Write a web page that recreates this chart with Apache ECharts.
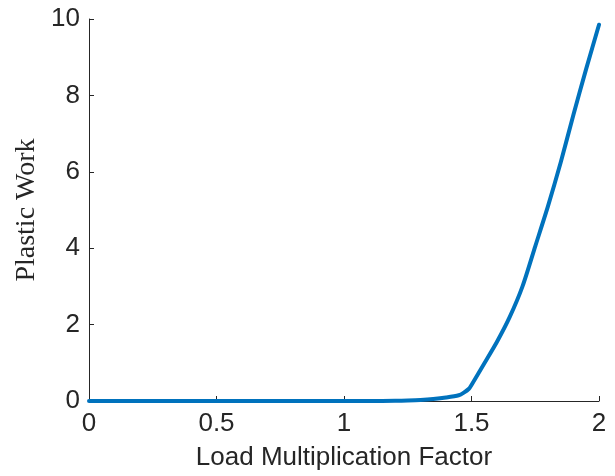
<!DOCTYPE html>
<html>
<head>
<meta charset="utf-8">
<script src="https://cdn.jsdelivr.net/npm/echarts@6/dist/echarts.min.js"></script>
<style>
  html, body { margin: 0; padding: 0; background: #ffffff; }
  #chart { width: 615px; height: 476px; }
</style>
</head>
<body>
<div id="chart"></div>
<script>
// Load multiplication factor (x) and accumulated plastic work (y)
const loadFactor = [0, 0.1, 0.2, 0.3, 0.4, 0.5, 0.6, 0.7, 0.8, 0.9, 1.0, 1.1, 1.2, 1.25, 1.3, 1.35, 1.4, 1.45, 1.47, 1.49, 1.5, 1.55, 1.6, 1.65, 1.7, 1.75, 1.8, 1.85, 1.9, 1.95, 2.0];
const plasticWork = [0, 0, 0, 0, 0, 0, 0, 0, 0, 0, 0, 0.001, 0.005, 0.012, 0.025, 0.05, 0.09, 0.15, 0.22, 0.32, 0.42, 0.98, 1.55, 2.2, 3.0, 4.05, 5.1, 6.25, 7.5, 8.7, 9.85];

const xTicks = { min: 0, max: 2, step: 0.5 };
const yTicks = { min: 0, max: 10, step: 2 };

const axisInk = '#262626';
const chart = echarts.init(document.getElementById('chart'), null, { renderer: 'canvas' });

chart.setOption({
  animation: false,
  backgroundColor: '#ffffff',
  grid: { left: 89, right: 16, top: 19, bottom: 72, containLabel: false },
  xAxis: {
    type: 'value',
    min: xTicks.min, max: xTicks.max, interval: xTicks.step,
    name: 'Load Multiplication Factor',
    nameLocation: 'middle',
    nameGap: 44,
    nameTextStyle: { fontFamily: 'Liberation Sans', fontSize: 26, color: axisInk },
    axisLine: { show: true, lineStyle: { color: axisInk, width: 1 } },
    axisTick: { show: true, inside: true, length: 5, lineStyle: { color: axisInk } },
    axisLabel: { fontFamily: 'Liberation Sans', fontSize: 26, color: axisInk, margin: 10 },
    splitLine: { show: false }
  },
  yAxis: {
    type: 'value',
    min: yTicks.min, max: yTicks.max, interval: yTicks.step,
    name: 'Plastic Work',
    nameLocation: 'middle',
    nameGap: 45,
    nameRotate: 90,
    nameTextStyle: { fontFamily: 'Liberation Serif', fontSize: 28, color: axisInk },
    axisLine: { show: true, lineStyle: { color: axisInk, width: 1 } },
    axisTick: { show: true, inside: true, length: 5, lineStyle: { color: axisInk } },
    axisLabel: { fontFamily: 'Liberation Sans', fontSize: 26, color: axisInk, margin: 9 },
    splitLine: { show: false }
  },
  series: [{
    type: 'line',
    data: loadFactor.map((x, i) => [x, plasticWork[i]]),
    showSymbol: false,
    clip: false,
    smooth: 0.25,
    lineStyle: { color: '#0072BD', width: 4, cap: 'round', join: 'round' },
    z: 3
  }]
});
</script>
</body>
</html>
